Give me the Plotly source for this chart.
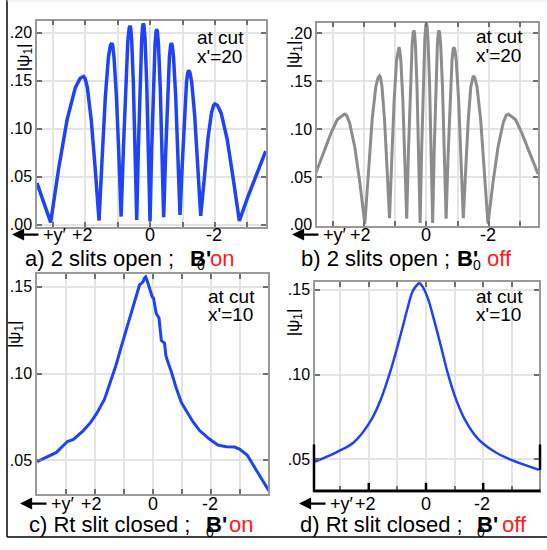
import plotly.graph_objects as go

W, H = 547, 550

# ---------------- data ----------------
# panel a: 2 slits open, B'0 on, cut x'=20
a_y_pos = [3.48, 3.27, 3.06,
           2.81, 2.555, 2.30, 2.15, 2.05, 2.00, 1.93, 1.81, 1.69, 1.57,
           1.47, 1.375, 1.28, 1.22, 1.18, 1.15, 1.11, 1.035, 0.96, 0.89,
           0.82, 0.75, 0.684, 0.643, 0.615, 0.595, 0.564, 0.513, 0.461, 0.41,
           0.359, 0.308, 0.256, 0.226, 0.205, 0.185, 0.154, 0.103, 0.051, 0.0,
           -0.051, -0.103, -0.154, -0.185, -0.205, -0.227, -0.259, -0.313, -0.366, -0.42,
           -0.479, -0.538, -0.597, -0.632, -0.656, -0.683, -0.723, -0.79, -0.856, -0.923,
           -0.99, -1.057, -1.123, -1.163, -1.19, -1.227, -1.283, -1.375, -1.468, -1.56,
           -1.67, -1.78, -1.89, -1.956, -2.0, -2.075, -2.19, -2.375, -2.56, -2.75,
           -3.0, -3.3, -3.56]
a_psi = [0.0433, 0.023, 0.0024,
         0.0591, 0.1091, 0.1426, 0.1524, 0.1543, 0.1524, 0.1426, 0.1091, 0.0591, 0.0044,
         0.0724, 0.1336, 0.1746, 0.1867, 0.189, 0.1867, 0.1746, 0.1336, 0.0724, 0.0085,
         0.0793, 0.1464, 0.1913, 0.2045, 0.207, 0.2045, 0.1913, 0.1464, 0.0793, 0.005,
         0.0802, 0.1481, 0.1936, 0.207, 0.2095, 0.207, 0.1936, 0.1481, 0.0802, 0.0034,
         0.0779, 0.1438, 0.1879, 0.2009, 0.2034, 0.2009, 0.1879, 0.1438, 0.0779, 0.0078,
         0.0724, 0.1336, 0.1746, 0.1867, 0.189, 0.1867, 0.1746, 0.1336, 0.0724, 0.0102,
         0.0615, 0.1135, 0.1483, 0.1585, 0.1605, 0.1585, 0.1483, 0.1135, 0.0615, 0.0092,
         0.0481, 0.0889, 0.1161, 0.1242, 0.1257, 0.1242, 0.1161, 0.0889, 0.0481, 0.004,
         0.028, 0.055, 0.0767]

# panel b: 2 slits open, B'0 off, cut x'=20
b_y_pos = [3.55, 3.30, 3.05, 2.85, 2.62, 2.555, 2.46, 2.295, 2.13, 1.97,
           1.85, 1.735, 1.62, 1.547, 1.50, 1.468, 1.42, 1.34, 1.26, 1.18,
           1.105, 1.03, 0.955, 0.91, 0.88, 0.855, 0.818, 0.755, 0.693, 0.63,
           0.573, 0.515, 0.458, 0.423, 0.40, 0.38, 0.35, 0.30, 0.25, 0.20,
           0.15, 0.10, 0.05, 0.02, 0.0, -0.02, -0.05, -0.10, -0.15, -0.20,
           -0.25, -0.30, -0.35, -0.38, -0.40, -0.423, -0.458, -0.515, -0.573, -0.63,
           -0.693, -0.755, -0.818, -0.855, -0.88, -0.91, -0.955, -1.03, -1.105, -1.18,
           -1.26, -1.34, -1.42, -1.468, -1.50, -1.547, -1.62, -1.735, -1.85, -1.97,
           -2.13, -2.295, -2.46, -2.555, -2.62, -2.85, -3.05, -3.30, -3.57]
b_psi = [0.0531, 0.075, 0.096, 0.110, 0.1158, 0.1144, 0.107, 0.0819, 0.0443, 0.001,
         0.0597, 0.1102, 0.144, 0.1539, 0.1558, 0.1539, 0.144, 0.1102, 0.0597, 0.0068,
         0.0711, 0.1312, 0.1715, 0.1833, 0.1856, 0.1833, 0.1715, 0.1312, 0.0711, 0.0062,
         0.0778, 0.1436, 0.1876, 0.2006, 0.2031, 0.2006, 0.1876, 0.1436, 0.0778, 0.0017,
         0.0807, 0.1489, 0.1946, 0.208, 0.2106, 0.208, 0.1946, 0.1489, 0.0807, 0.0017,
         0.0778, 0.1436, 0.1876, 0.2006, 0.2031, 0.2006, 0.1876, 0.1436, 0.0778, 0.0062,
         0.0711, 0.1312, 0.1715, 0.1833, 0.1856, 0.1833, 0.1715, 0.1312, 0.0711, 0.0068,
         0.0597, 0.1102, 0.144, 0.1539, 0.1558, 0.1539, 0.144, 0.1102, 0.0597, 0.001,
         0.0443, 0.0819, 0.107, 0.1144, 0.1158, 0.110, 0.096, 0.075, 0.0531]

# panel c: right slit closed, B'0 on, cut x'=10
c_y_pos = [4.0, 3.68, 3.33, 3.09, 2.95, 2.74, 2.40, 2.15, 1.94, 1.67, 1.48, 1.28,
           1.09, 0.90, 0.72, 0.575, 0.46, 0.40, 0.345, 0.29, 0.25, 0.21, 0.14, 0.07,
           0.02, -0.02, -0.06, -0.115, -0.21, -0.26, -0.29, -0.40, -0.45, -0.53,
           -0.63, -0.80, -0.98, -1.15, -1.38, -1.61, -1.95, -2.24, -2.53, -2.82,
           -3.0, -3.25, -3.45, -3.68, -3.85, -4.0]
c_psi = [0.0492, 0.0517, 0.0545, 0.0585, 0.0608, 0.0620, 0.0671, 0.0718, 0.0770, 0.0852, 0.0946, 0.1045,
         0.1156, 0.1265, 0.1365, 0.1451, 0.1512, 0.1520, 0.1528, 0.1550, 0.1557, 0.1540, 0.1500, 0.1470,
         0.1440, 0.1435, 0.1400, 0.1345, 0.1320, 0.1240, 0.1190, 0.1175, 0.1100, 0.1060,
         0.1013, 0.0918, 0.0833, 0.0785, 0.0722, 0.0671, 0.0622, 0.0588, 0.0578, 0.0576,
         0.0563, 0.0530, 0.0475, 0.0410, 0.0365, 0.0324]

# panel d: right slit closed, B'0 off, cut x'=10
d_y_pos = [3.92, 3.10, 2.51, 1.93, 1.58, 1.23, 0.88, 0.64, 0.47, 0.29, 0.23, 0.12,
           -0.06, -0.29, -0.53, -0.76, -1.05, -1.35, -1.81, -2.40, -2.98, -3.95]
d_psi = [0.0483, 0.0544, 0.0602, 0.0728, 0.0853, 0.1027, 0.1239, 0.1394, 0.1490, 0.1533, 0.1539, 0.1519,
         0.1452, 0.1317, 0.1162, 0.1008, 0.0853, 0.0737, 0.0622, 0.0544, 0.0496, 0.0438]

x_tickvals = [3, 2, 1, 0, -1, -2, -3]
x_ticktext = ["", "+2", "", "0", "", "-2", ""]
y_ticks_top = [0.0, 0.05, 0.10, 0.15, 0.20]
y_ticktext_top = [".00", ".05", ".10", ".15", ".20"]
y_ticks_bot = [0.05, 0.10, 0.15]
y_ticktext_bot = [".05", ".10", ".15"]

captions = ["a) 2 slits open ;", "b) 2 slits open ;", "c) Rt slit closed ;", "d) Rt slit closed ;"]
states = ["on", "off", "on", "off"]
cuts = ["x'=20", "x'=20", "x'=10", "x'=10"]

BLUE = "#1f43fa"
GRAY = "#8c8c8c"
FONT = "Liberation Sans, Arial, Helvetica, sans-serif"


def px(x):
    return x / W


def py(y):
    return 1 - y / H


fig = go.Figure()
fig.add_trace(go.Scatter(x=a_y_pos, y=a_psi, mode="lines", line=dict(color=BLUE, width=3.5),
                         xaxis="x", yaxis="y"))
fig.add_trace(go.Scatter(x=b_y_pos, y=b_psi, mode="lines", line=dict(color=GRAY, width=3),
                         xaxis="x2", yaxis="y2"))
fig.add_trace(go.Scatter(x=c_y_pos, y=c_psi, mode="lines", line=dict(color=BLUE, width=3),
                         xaxis="x3", yaxis="y3"))
fig.add_trace(go.Scatter(x=d_y_pos, y=d_psi, mode="lines", line=dict(color=BLUE, width=2.5, shape="spline"),
                         xaxis="x4", yaxis="y4"))


def xax(dom, rng, anchor):
    return dict(domain=dom, range=rng, anchor=anchor, tickvals=x_tickvals, showticklabels=False,
                showgrid=True, gridcolor="#e4e4e4", gridwidth=2, zeroline=False,
                showline=True, linecolor="#9a9a9a", linewidth=1.5, mirror="ticks",
                ticks="inside", ticklen=5, tickwidth=1.5, tickcolor="#6f6f6f")


def yax(dom, rng, anchor, tv, tt):
    return dict(domain=dom, range=rng, anchor=anchor, tickvals=tv, ticktext=tt,
                showgrid=True, gridcolor="#e4e4e4", gridwidth=2, zeroline=False,
                showline=True, linecolor="#9a9a9a", linewidth=1.5, mirror="ticks",
                ticks="inside", ticklen=5, tickwidth=1.5, tickcolor="#6f6f6f",
                tickfont=dict(family=FONT, size=16, color="black"))


fig.update_layout(
    width=W, height=H, margin=dict(l=0, r=0, t=0, b=0),
    paper_bgcolor="white", plot_bgcolor="white", showlegend=False,
    xaxis=xax([px(37), px(266)], [3.48, -3.57], "y"),
    yaxis=yax([py(230), py(21)], [-0.002, 0.2123], "x", y_ticks_top, y_ticktext_top),
    xaxis2=xax([px(317), px(538)], [3.5, -3.57], "y2"),
    yaxis2=yax([py(229), py(23)], [-0.001, 0.2113], "x2", y_ticks_top, y_ticktext_top),
    xaxis3=xax([px(37), px(268)], [4.0, -3.97], "y3"),
    yaxis3=yax([py(501), py(278)], [0.0307, 0.1574], "x3", y_ticks_bot, y_ticktext_bot),
    xaxis4=xax([px(315), px(539)], [3.88, -3.95], "y4"),
    yaxis4=yax([py(498), py(286)], [0.0314, 0.1547], "x4", y_ticks_bot, y_ticktext_bot),
)

ann = []


def text(x, y, s, size, color="black", xanchor="left", angle=0):
    ann.append(dict(x=px(x), y=py(y), xref="paper", yref="paper", text=s, showarrow=False,
                    xanchor=xanchor, yanchor="middle", textangle=angle,
                    font=dict(family=FONT, size=size, color=color)))


# x tick labels (placed on each axis's own scale)
for xr, ylab in [("x", 238), ("x2", 238), ("x3", 511), ("x4", 511)]:
    for v, t in zip(x_tickvals, x_ticktext):
        if t:
            ann.append(dict(x=v, y=py(ylab), xref=xr, yref="paper", text=t, showarrow=False,
                            xanchor="center", yanchor="middle",
                            xshift=-3 if t.startswith("+") else (-1 if t.startswith("-") else 0),
                            font=dict(family=FONT, size=18, color="black")))

# "at cut" labels
for (xl, y1, y2), cut in zip([(195, 38, 57), (474, 37, 56.5), (206, 301, 319.5), (474, 300.5, 319)], cuts):
    text(xl, y1, "at cut", 19)
    text(xl, y2, cut, 19)

# y-axis titles
for (xc, yc) in [(25, 58), (295, 55), (16, 339), (295, 327)]:
    text(xc, yc, "|ψ<sub>1</sub>|", 17, xanchor="center", angle=-90)

# arrow + "+y'" labels
for (xl, yc) in [(12, 238), (292, 238), (20, 511), (299, 511)]:
    ann.append(dict(x=px(xl), y=py(yc), xref="paper", yref="paper", text="", showarrow=True,
                    ax=28, ay=0, arrowhead=2, arrowsize=1.1, arrowwidth=2.2, arrowcolor="black",
                    standoff=0, startstandoff=0))
    text(xl + 29, yc, "+y′", 18)

# captions
cap_pos = [(23, 262, 188, 201, 269, 208), (299, 262, 455, 477, 269, 485),
           (27, 532, 204, 210, 540, 227), (298, 532, 475, 481, 540, 500)]
for (xc, yc, xb, x0, y0, xs), cap, st in zip(cap_pos, captions, states):
    text(xc, yc, cap, 22)
    text(xb, yc, "<b>B'</b>", 22)
    text(x0, y0, "0", 14, xanchor="center")
    text(xs, yc, st, 22, color="#ff1a1a")

fig.update_layout(annotations=ann)

shapes = []
# outer frame lines
shapes.append(dict(type="line", xref="paper", yref="paper", x0=px(7), x1=px(7), y0=py(0), y1=py(545),
                   line=dict(color="black", width=1.5)))
shapes.append(dict(type="line", xref="paper", yref="paper", x0=px(7), x1=px(547), y0=py(545), y1=py(545),
                   line=dict(color="black", width=1.5)))
shapes.append(dict(type="line", xref="paper", yref="paper", x0=px(7), x1=px(547), y0=py(1), y1=py(1),
                   line=dict(color="#e6e6e6", width=1)))
# panel d black axis frame
shapes.append(dict(type="line", xref="paper", yref="paper", x0=px(314), x1=px(540.5), y0=py(498), y1=py(498),
                   line=dict(color="black", width=2.5), layer="above"))
shapes.append(dict(type="line", xref="paper", yref="paper", x0=px(314), x1=px(314), y0=py(451), y1=py(499),
                   line=dict(color="black", width=2.5), layer="above"))
shapes.append(dict(type="line", xref="paper", yref="paper", x0=px(540), x1=px(540), y0=py(451), y1=py(477),
                   line=dict(color="black", width=2.5), layer="above"))
for v in [2, 0, -2]:
    shapes.append(dict(type="line", xref="x4", yref="paper", x0=v, x1=v, y0=py(498), y1=py(490),
                       line=dict(color="black", width=2.5), layer="above"))
fig.update_layout(shapes=shapes)

fig.write_html("out.html", config={"displayModeBar": False},
               post_script="document.body.style.margin='0px';")
